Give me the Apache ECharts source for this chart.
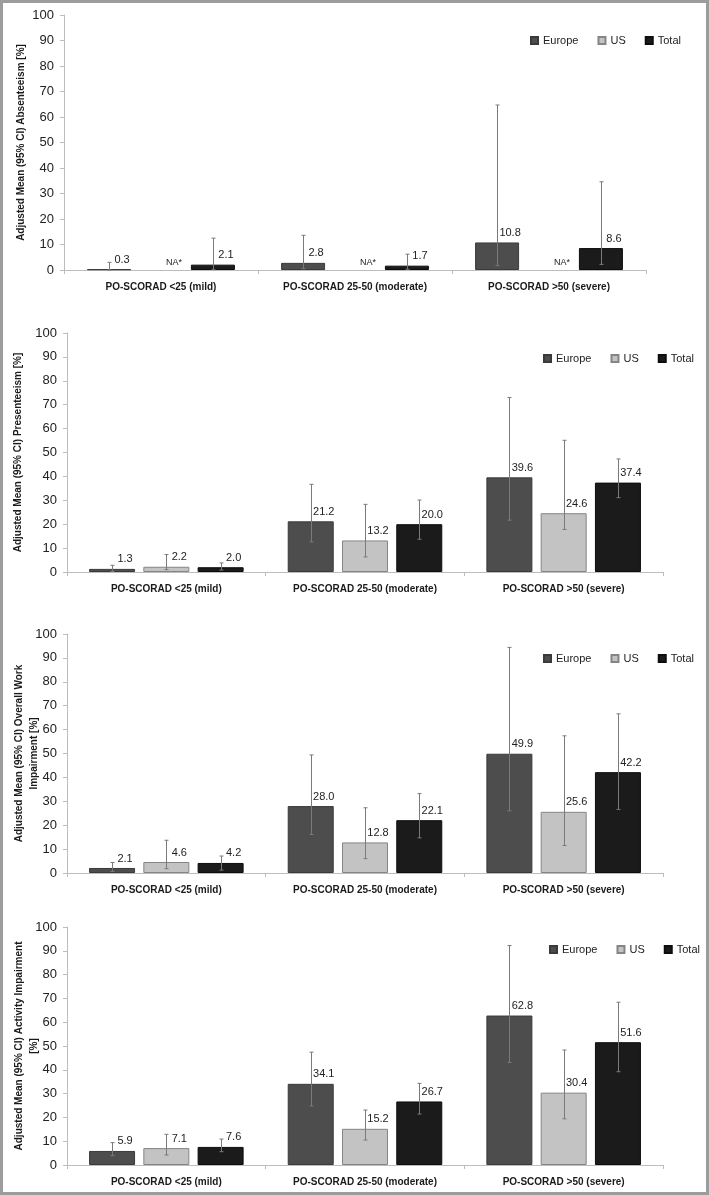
<!DOCTYPE html>
<html>
<head>
<meta charset="utf-8">
<script src="https://cdn.jsdelivr.net/npm/echarts@6/dist/echarts.min.js"></script>
<style>
html, body { margin: 0; padding: 0; background: #fff; }
#main { position: absolute; left: 0; top: 0; width: 709px; height: 1195px; }
#frame { position: absolute; left: 0; top: 0; width: 709px; height: 1195px; box-sizing: border-box; border: 3px solid #9c9c9c; pointer-events: none; }
</style>
</head>
<body>
<div id="main"></div>
<div id="frame"></div>
<script>
// categories / groups
var categories = ['PO-SCORAD <25 (mild)', 'PO-SCORAD 25-50 (moderate)', 'PO-SCORAD >50 (severe)'];
var seriesNames = ['Europe', 'US', 'Total'];

// absenteeism (US not available -> null)
var absEurope = [0.3, 2.8, 10.8];
var absUS = [null, null, null];
var absTotal = [2.1, 1.7, 8.6];
var absEuropeCI = [[0.0, 3.0], [0.5, 13.6], [1.7, 64.7]];
var absUSCI = [null, null, null];
var absTotalCI = [[0.1, 12.5], [0.3, 6.2], [2.2, 34.6]];

// presenteeism
var preEurope = [1.3, 21.2, 39.6];
var preUS = [2.2, 13.2, 24.6];
var preTotal = [2.0, 20.0, 37.4];
var preEuropeCI = [[0.2, 2.8], [12.6, 36.7], [21.7, 73.0]];
var preUSCI = [[1.0, 7.3], [6.3, 28.3], [17.8, 55.1]];
var preTotalCI = [[0.8, 3.8], [13.7, 30.1], [31.1, 47.3]];

// overall work impairment
var workEurope = [2.1, 28.0, 49.9];
var workUS = [4.6, 12.8, 25.6];
var workTotal = [4.2, 22.1, 42.2];
var workEuropeCI = [[0.6, 4.4], [16.1, 49.4], [26.0, 94.4]];
var workUSCI = [[1.8, 13.7], [6.0, 27.3], [11.5, 57.4]];
var workTotalCI = [[1.2, 7.1], [14.7, 33.2], [26.6, 66.6]];

// activity impairment
var actEurope = [5.9, 34.1, 62.8];
var actUS = [7.1, 15.2, 30.4];
var actTotal = [7.6, 26.7, 51.6];
var actEuropeCI = [[3.9, 9.4], [24.8, 47.4], [43.1, 92.2]];
var actUSCI = [[4.2, 12.9], [10.5, 23.1], [19.4, 48.3]];
var actTotalCI = [[5.6, 10.9], [21.4, 34.3], [39.2, 68.4]];

var yMin = 0, yMax = 100, yStep = 10;

var fills = ['#4d4d4d', '#c3c3c3', '#1b1b1b'];
var borders = ['#3a3a3a', '#858585', '#0d0d0d'];
var FONT = '"Liberation Sans", Arial, sans-serif';

var panels = [
  {
    title: 'Adjusted Mean (95% CI) Absenteeism [%]',
    values: [absEurope, absUS, absTotal],
    ci: [absEuropeCI, absUSCI, absTotalCI],
    grid: { left: 64, top: 15, width: 582, height: 255 },
    nameGap: 35, legend: { left: 530, top: 35 }, barW: 44
  },
  {
    title: 'Adjusted Mean (95% CI) Presenteeism [%]',
    values: [preEurope, preUS, preTotal],
    ci: [preEuropeCI, preUSCI, preTotalCI],
    grid: { left: 67, top: 333, width: 596, height: 239 },
    nameGap: 41, legend: { left: 543, top: 353 }, barW: 46
  },
  {
    title: 'Adjusted Mean (95% CI) Overall Work\nImpairment [%]',
    values: [workEurope, workUS, workTotal],
    ci: [workEuropeCI, workUSCI, workTotalCI],
    grid: { left: 67, top: 634, width: 596, height: 239 },
    nameGap: 25, legend: { left: 543, top: 653 }, barW: 46
  },
  {
    title: 'Adjusted Mean (95% CI) Activity Impairment\n[%]',
    values: [actEurope, actUS, actTotal],
    ci: [actEuropeCI, actUSCI, actTotalCI],
    grid: { left: 67, top: 927, width: 596, height: 238 },
    nameGap: 25, legend: { left: 549, top: 944 }, barW: 46
  }
];

var GAP_RATIO = 0.18;

// error bar drawer (offset = pixel shift of the bar inside its category)
function errorBar(offset) {
  return function (params, api) {
    var c = api.value(0);
    var lo = api.coord([c, api.value(1)]);
    var hi = api.coord([c, api.value(2)]);
    var x = Math.round(lo[0] + offset) + 0.5;
    var st = { stroke: '#7a7a7a', lineWidth: 1 };
    return {
      type: 'group',
      children: [
        { type: 'line', shape: { x1: x, y1: lo[1], x2: x, y2: hi[1] }, style: st },
        { type: 'line', shape: { x1: x - 2, y1: hi[1], x2: x + 2, y2: hi[1] }, style: st },
        { type: 'line', shape: { x1: x - 2, y1: lo[1], x2: x + 2, y2: lo[1] }, style: st }
      ]
    };
  };
}

var series = [];
panels.forEach(function (p, i) {
  seriesNames.forEach(function (nm, j) {
    series.push({
      type: 'bar',
      name: nm,
      xAxisIndex: i,
      yAxisIndex: i,
      barWidth: p.barW,
      barGap: (GAP_RATIO * 100) + '%',
      itemStyle: { color: fills[j], borderColor: borders[j], borderWidth: 1 },
      label: {
        show: true,
        position: 'top',
        distance: 4,
        offset: [13, 0],
        fontFamily: FONT,
        fontSize: 11,
        color: '#222',
        formatter: function (d) { return Number(d.value).toFixed(1); }
      },
      data: p.values[j].map(function (v) {
        if (v == null) {
          return { value: 0, itemStyle: { borderWidth: 0 }, label: { formatter: 'NA*', fontSize: 9, offset: [13, 1] } };
        }
        return v;
      })
    });
    var ciData = [];
    p.ci[j].forEach(function (r, k) { if (r) ciData.push([k, r[0], r[1]]); });
    if (ciData.length) {
      var off = (j - 1) * p.barW * (1 + GAP_RATIO);
      series.push({
        type: 'custom',
        xAxisIndex: i,
        yAxisIndex: i,
        z: 5,
        silent: true,
        encode: { x: 0, y: [1, 2] },
        renderItem: errorBar(off),
        data: ciData
      });
    }
  });
});

var option = {
  animation: false,
  backgroundColor: '#fff',
  grid: panels.map(function (p) {
    return Object.assign({ outerBoundsMode: 'none', containLabel: false }, p.grid);
  }),
  legend: panels.map(function (p) {
    return {
      data: seriesNames,
      left: p.legend.left,
      top: p.legend.top,
      padding: 0,
      width: 170,
      icon: 'rect',
      itemWidth: 7,
      itemHeight: 7,
      itemGap: 19,
      selectedMode: false,
      textStyle: { fontFamily: FONT, fontSize: 11, color: '#222' }
    };
  }),
  xAxis: panels.map(function (p, i) {
    return {
      type: 'category',
      gridIndex: i,
      data: categories,
      axisLine: { lineStyle: { color: '#bdbdbd' } },
      axisTick: { show: true, length: 4, lineStyle: { color: '#bdbdbd' } },
      axisLabel: { margin: 12, fontFamily: FONT, fontSize: 10, fontWeight: 'bold', color: '#1a1a1a' }
    };
  }),
  yAxis: panels.map(function (p, i) {
    return {
      type: 'value',
      gridIndex: i,
      min: yMin,
      max: yMax,
      interval: yStep,
      name: p.title,
      nameLocation: 'middle',
      nameGap: p.nameGap,
      nameMoveOverlap: false,
      nameTextStyle: { fontFamily: FONT, fontSize: 10, fontWeight: 'bold', color: '#1a1a1a', lineHeight: 15 },
      splitLine: { show: false },
      axisLine: { show: true, lineStyle: { color: '#bdbdbd' } },
      axisTick: { show: true, length: 4, lineStyle: { color: '#bdbdbd' } },
      axisLabel: { margin: 10, fontFamily: FONT, fontSize: 13, color: '#222' }
    };
  }),
  series: series
};

var chart = echarts.init(document.getElementById('main'), null, { renderer: 'canvas' });
chart.setOption(option);
</script>
</body>
</html>
